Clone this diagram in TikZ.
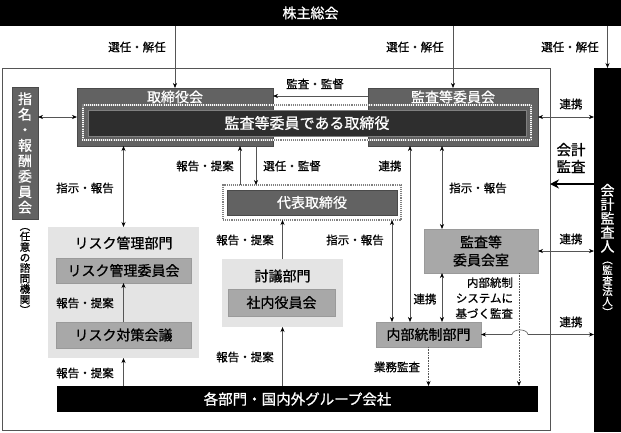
\documentclass[tikz,border=0pt]{standalone}
\usepackage{fontspec}
\setmainfont{Noto Sans CJK JP}[FakeBold=0.8]
\usetikzlibrary{arrows.meta,positioning}
\definecolor{boxdark}{HTML}{626262}
\definecolor{boxdarkline}{HTML}{4A4A4A}
\definecolor{boxinner}{HTML}{2E2E2E}
\definecolor{boxlight}{HTML}{A8A8A8}
\definecolor{boxlightline}{HTML}{9A9A9A}
\definecolor{groupbg}{HTML}{E4E4E4}
\definecolor{linegray}{HTML}{555555}
\newcommand\smallv{\fontsize{10.5}{10.5}\selectfont}
\begin{document}
\begin{tikzpicture}[
    x=1pt, y=-1pt,
    >={Stealth[length=5pt,width=4pt,color=black]},
    every node/.style={inner sep=0pt, outer sep=0pt},
    bar/.style={%
      fill=black,
      text=white,
      font=\fontsize{14}{16}\selectfont,
    },
    frame/.style={%
      draw=linegray,
      line width=0.9pt,
    },
    darkbox/.style={%
      fill=boxdark,
      draw=boxdarkline,
      line width=0.6pt,
    },
    innerbox/.style={%
      fill=boxinner,
      draw=gray,
      line width=0.5pt,
      text=white,
      font=\fontsize{15}{17}\selectfont,
    },
    dotframe/.style={%
      draw=gray,
      densely dotted,
      line width=1.1pt,
      preaction={draw=white, solid, line width=1.1pt},
    },
    lightbox/.style={%
      fill=boxlight,
      draw=boxlightline,
      line width=0.5pt,
      font=\fontsize{14}{18}\selectfont,
      align=center,
    },
    group/.style={%
      fill=groupbg,
    },
    title/.style={%
      font=\fontsize{14}{16}\selectfont,
    },
    lbl/.style={%
      font=\fontsize{11.5}{13}\selectfont,
    },
    link/.style={%
      draw=linegray,
      line width=0.6pt,
    },
    audit/.style={%
      draw=black,
      line width=2pt,
      -{Stealth[length=9pt,width=9pt]},
    },
  ]
    \useasboundingbox (0,0) rectangle (621,432);
    \node [frame, minimum width=548pt, minimum height=362pt] (company) at (276,249) {};
    \node [bar, minimum width=621pt, minimum height=26pt] (agm) at (310.5,13) {株主総会};
    \node [bar, minimum width=27pt, minimum height=364pt, align=center,
      font=\fontsize{14}{14}\selectfont] (auditor) at (607.5,250)
      {会\\計\\監\\査\\人\\[-2pt]\smallv ︵\\[-3.5pt]\smallv 監\\[-3.5pt]\smallv 査\\[-3.5pt]\smallv 法\\[-3.5pt]\smallv 人\\[-3.5pt]\smallv ︶};
    \node [darkbox, minimum width=26pt, minimum height=132pt, text=white, align=center,
      font=\fontsize{14}{15.5}\selectfont] (nom) at (25,153) {指\\名\\・\\報\\酬\\委\\員\\会};
    \node [align=center, font=\smallv] (nomnote) at (25,271)
      {︵\\任\\意\\の\\諮\\問\\機\\関\\︶};

    \node [darkbox, minimum width=196pt, minimum height=58pt] (board) at (175,117) {};
    \node [title, text=white] (boardttl) at (175,97) {取締役会};
    \node [darkbox, minimum width=170pt, minimum height=58pt] (acb) at (453,117) {};
    \node [title, text=white] (acbttl) at (453,97) {監査等委員会};
    \node [dotframe, minimum width=448pt, minimum height=35pt] (dirfrm) at (307,122.5) {};
    \node [innerbox, minimum width=438pt, minimum height=26pt] (dir) at (307,123) {監査等委員である取締役};

    \node [dotframe, fill=white, minimum width=178pt, minimum height=35pt] (ceogrp) at (312,202.5) {};
    \node [darkbox, minimum width=170pt, minimum height=25pt, text=white,
      font=\fontsize{14}{16}\selectfont] (ceo) at (312,202.5) {代表取締役};

    \node [group, minimum width=151pt, minimum height=131pt] (riskgrp) at (123.5,292.5) {};
    \node [title] (riskttl) at (123.5,243) {リスク管理部門};
    \node [lightbox, minimum width=135pt, minimum height=25pt] (riskcom) at (123.5,270.5) {リスク管理委員会};
    \node [lightbox, minimum width=135pt, minimum height=26pt] (riskcm) at (123.5,335) {リスク対策会議};

    \node [group, minimum width=121pt, minimum height=68pt] (talkgrp) at (282.5,293) {};
    \node [title] (talkttl) at (282.5,276) {討議部門};
    \node [lightbox, minimum width=107pt, minimum height=27pt] (talkcom) at (281.5,302.5) {社内役員会};

    \node [lightbox, minimum width=114pt, minimum height=44pt] (acbroom) at (481,251) {監査等\\委員会室};
    \node [lightbox, minimum width=105pt, minimum height=25pt] (ics) at (428.5,334.5) {内部統制部門};
    \node [bar, minimum width=481pt, minimum height=26pt, font=\fontsize{14.5}{16}\selectfont] (dept) at (297.5,399)
      {各部門・国内外グループ会社};

    \node [lbl] (selA) at (137,47) {選任・解任};
    \node [lbl] (selB) at (415,47) {選任・解任};
    \node [lbl] (selC) at (570,47) {選任・解任};
    \node [lbl] (supv) at (315,84) {監査・監督};
    \node [lbl] (coopA) at (571,104) {連携};
    \node [lbl, align=center, font=\fontsize{14.5}{17}\selectfont] (audlbl) at (571,158) {会計\\監査};
    \node [lbl] (coopB) at (571,239) {連携};
    \node [lbl] (coopC) at (571,322) {連携};
    \node [lbl] (instA) at (85,188) {指示・報告};
    \node [lbl] (repA) at (205,166) {報告・提案};
    \node [lbl] (selD) at (292,166) {選任・監督};
    \node [lbl] (coopD) at (390,166) {連携};
    \node [lbl] (instB) at (478,188) {指示・報告};
    \node [lbl] (instC) at (355,240) {指示・報告};
    \node [lbl] (repB) at (245,240) {報告・提案};
    \node [lbl] (repC) at (245,357) {報告・提案};
    \node [lbl] (repD) at (85,303) {報告・提案};
    \node [lbl] (repE) at (85,373) {報告・提案};
    \node [lbl] (coopE) at (425,299) {連携};
    \node [lbl, anchor=east, align=right, font=\fontsize{11.5}{15.5}\selectfont] (icsaudit) at (513,298)
      {内部統制\\システムに\\基づく監査};
    \node [lbl] (opaudit) at (397,367) {業務監査};

    \draw [link,->] (agm.south -| board.north) -- (board.north);
    \draw [link,->] (agm.south -| acb.north) -- (acb.north);
    \draw [link,->] (agm.south -| auditor.north) -- (auditor.north);
    \draw [link,->] ([yshift=21pt]acb.west) -- ([yshift=21pt]board.east);
    \draw [link,<->] (board.west -| nom.east) -- (board.west);
    \draw [link,<->] (board.south -| riskgrp.north) -- (riskgrp.north);
    \draw [link,->] ([xshift=-72pt]ceogrp.north) -- ([xshift=65pt]board.south);
    \draw [link,->] ([xshift=81pt]board.south) -- ([xshift=-56pt]ceogrp.north);
    \draw [link,->] (talkgrp.north) -- (talkgrp.north |- ceogrp.south);
    \draw [link,->] (dept.north -| talkgrp.south) -- (talkgrp.south);
    \draw [link,->] (dept.north -| riskgrp.south) -- (riskgrp.south);
    \draw [link,->] (riskcm.north) -- (riskcom.south);
    \draw [link,<->] ([xshift=80pt]ceogrp.south) -- ([xshift=-36.5pt]ics.north);
    \draw [link,<->] ([xshift=-43pt]acb.south) -- ([xshift=-18.5pt]ics.north);
    \draw [link,<->] ([xshift=-11pt]acb.south) -- ([xshift=-39pt]acbroom.north);
    \draw [link,<->] ([xshift=-39pt]acbroom.south) -- ([xshift=13.5pt]ics.north);
    \draw [link,densely dotted,->] (ics.south) -- (ics.south |- dept.north);
    \draw [link,densely dotted,->] ([xshift=38pt]acbroom.south) -- ([xshift=221.5pt]dept.north);
    \draw [link,<->] (acb.east) -- (acb.east -| auditor.west);
    \draw [link,<->] (acbroom.east) -- (acbroom.east -| auditor.west);
    \draw [link,<->] (ics.east) -- ([xshift=31pt]ics.east) to [out=80,in=100] ([xshift=47pt]ics.east)
      -- (ics.east -| auditor.west);
    \draw [audit] ([yshift=66pt]auditor.west) -- ([yshift=65pt]company.east);
\end{tikzpicture}
\end{document}
